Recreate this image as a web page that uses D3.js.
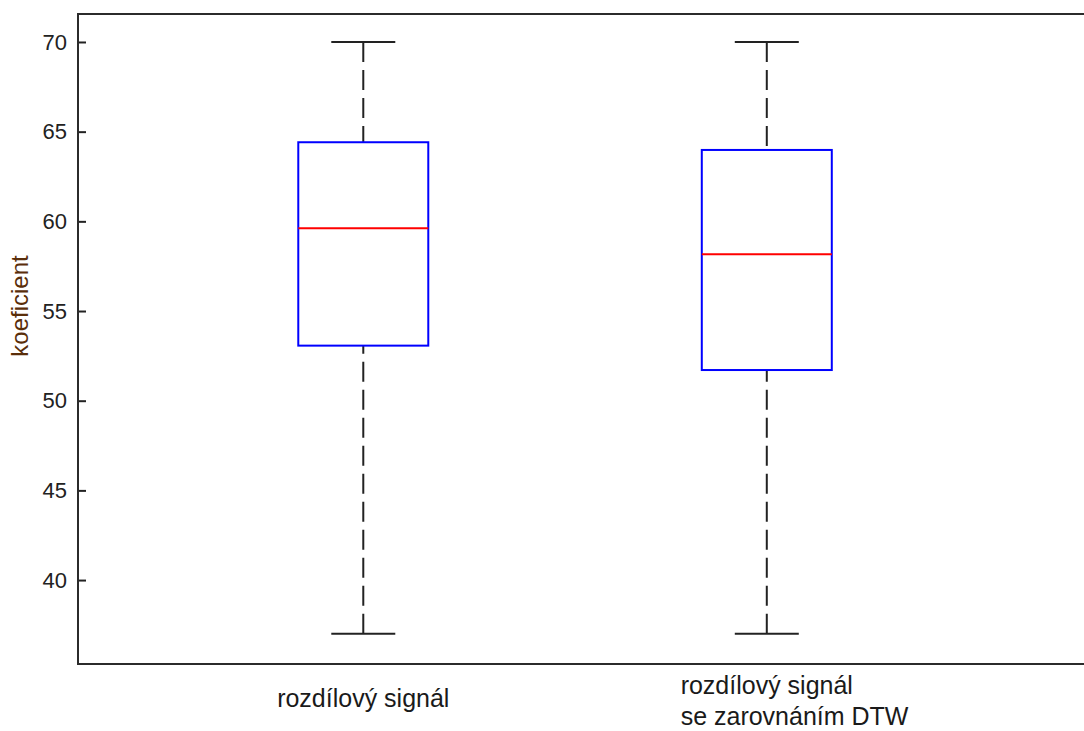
<!DOCTYPE html>
<html>
<head>
<meta charset="utf-8">
<script src="https://cdn.jsdelivr.net/npm/d3@7"></script>
<style>
  body { margin: 0; background: #fff; }
  text { font-family: "Liberation Sans", Arial, sans-serif; }
</style>
</head>
<body>
<script>
// box plot data
var groups = [["rozdílový signál"], ["rozdílový signál", "se zarovnáním DTW"]];
var whiskerLow = [37, 37];
var q1 = [53.07, 51.71];
var median = [59.61, 58.16];
var q3 = [64.41, 63.98];
var whiskerHigh = [70, 70];
var yTicks = [40, 45, 50, 55, 60, 65, 70];

var W = 1084, H = 731;
var plotLeft = 78, plotTop = 14, plotBottom = 664;

var svg = d3.select("body").append("svg")
  .attr("width", W)
  .attr("height", H);

var x = d3.scaleLinear().domain([0.293, 2.8]).range([plotLeft, 1089.6]);
var y = d3.scaleLinear().domain([35.32, 71.56]).range([plotBottom, plotTop]);

var boxHalf = 65, capHalf = 32;

var data = groups.map(function (g, i) {
  return {pos: i + 1, label: g, lo: whiskerLow[i], q1: q1[i], med: median[i], q3: q3[i], hi: whiskerHigh[i]};
});

// whiskers (dashed)
var wh = svg.append("g").attr("stroke", "#222").attr("stroke-width", 2);
wh.selectAll(".wu").data(data).enter().append("line")
  .attr("x1", function (d) { return x(d.pos); })
  .attr("x2", function (d) { return x(d.pos); })
  .attr("y1", function (d) { return y(d.hi); })
  .attr("y2", function (d) { return y(d.q3); })
  .attr("stroke-dasharray", "20,8");
wh.selectAll(".wl").data(data).enter().append("line")
  .attr("x1", function (d) { return x(d.pos); })
  .attr("x2", function (d) { return x(d.pos); })
  .attr("y1", function (d) { return y(d.lo); })
  .attr("y2", function (d) { return y(d.q1); })
  .attr("stroke-dasharray", "20,8");
// caps
["hi", "lo"].forEach(function (k) {
  wh.selectAll(".c" + k).data(data).enter().append("line")
    .attr("x1", function (d) { return x(d.pos) - capHalf; })
    .attr("x2", function (d) { return x(d.pos) + capHalf; })
    .attr("y1", function (d) { return y(d[k]); })
    .attr("y2", function (d) { return y(d[k]); });
});

// boxes
svg.selectAll(".box").data(data).enter().append("rect")
  .attr("x", function (d) { return x(d.pos) - boxHalf; })
  .attr("y", function (d) { return y(d.q3); })
  .attr("width", boxHalf * 2)
  .attr("height", function (d) { return y(d.q1) - y(d.q3); })
  .attr("fill", "none")
  .attr("stroke", "#0000ff")
  .attr("stroke-width", 2);

// medians
svg.selectAll(".med").data(data).enter().append("line")
  .attr("x1", function (d) { return x(d.pos) - boxHalf; })
  .attr("x2", function (d) { return x(d.pos) + boxHalf; })
  .attr("y1", function (d) { return y(d.med); })
  .attr("y2", function (d) { return y(d.med); })
  .attr("stroke", "#ff0000")
  .attr("stroke-width", 2);

// y axis with inward ticks
var yAxis = svg.append("g")
  .attr("transform", "translate(" + plotLeft + ",0)")
  .call(d3.axisLeft(y).tickValues(yTicks).tickSizeInner(-8).tickSizeOuter(0).tickPadding(11));
yAxis.select(".domain").remove();
yAxis.selectAll(".tick line").attr("stroke", "#222").attr("stroke-width", 2);
yAxis.selectAll(".tick text")
  .attr("fill", "#222")
  .style("font-size", "22px")
  .style("font-family", "'Liberation Sans', Arial, sans-serif");

// frame (left, top, bottom)
svg.append("path")
  .attr("d", "M" + W + "," + plotTop + "H" + plotLeft + "V" + plotBottom + "H" + W)
  .attr("fill", "none")
  .attr("stroke", "#2b2b2b")
  .attr("stroke-width", 2);

// x labels: first line centred, following lines aligned left to it
data.forEach(function (d) {
  var n = d.label.length;
  var base = n === 1 ? 707 : 694;
  var t = svg.append("text")
    .attr("y", base)
    .attr("fill", "#1a1a1a")
    .style("font-size", "25px");
  d.label.forEach(function (line, i) {
    t.append("tspan").attr("dy", i === 0 ? 0 : 31).text(line);
  });
  var first = t.select("tspan").node().getComputedTextLength();
  t.selectAll("tspan").attr("x", x(d.pos) - first / 2);
});

// y label
svg.append("text")
  .attr("transform", "translate(28,306) rotate(-90)")
  .attr("text-anchor", "middle")
  .attr("fill", "#5a2e0a")
  .style("font-size", "24px")
  .text("koeficient");
</script>
</body>
</html>
